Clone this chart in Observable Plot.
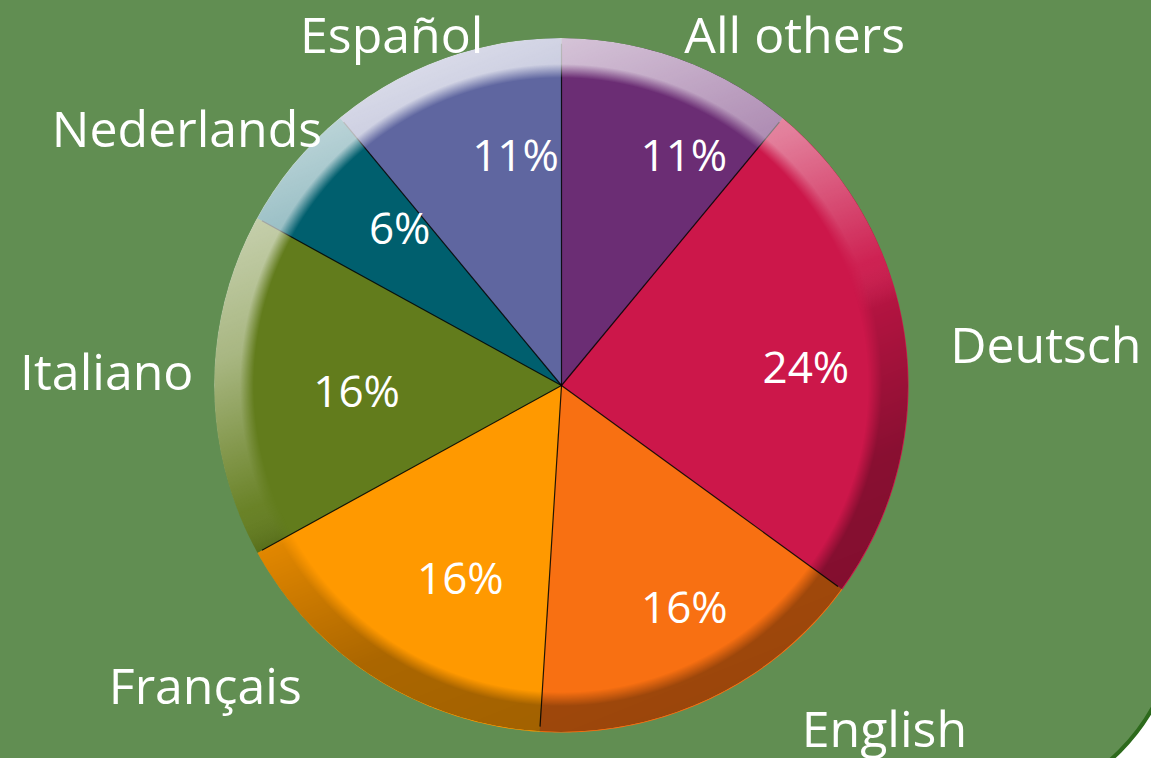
<!DOCTYPE html>
<html>
<head>
<meta charset="utf-8">
<script src="https://cdn.jsdelivr.net/npm/d3@7"></script>
<script src="https://cdn.jsdelivr.net/npm/@observablehq/plot@0.6"></script>
<style>
  html, body { margin: 0; padding: 0; background: #ffffff; width: 1151px; height: 758px; overflow: hidden; position: relative; }
  #bg { position: absolute; left: -10px; top: -10px; width: 1190px; height: 821px; box-sizing: border-box;
        background: #618e52; border: 4px solid #2d6a1c; border-bottom-right-radius: 200px; }
  #chart { position: absolute; left: 0; top: 0; }
</style>
</head>
<body>
<div id="bg"></div>
<div id="chart"></div>
<script>
// ---- data ----
const languages = ["All others", "Deutsch", "English", "Français", "Italiano", "Nederlands", "Español"];
const shares = [11, 24, 16, 16, 16, 6, 11];
const percentLabels = ["11%", "24%", "16%", "16%", "16%", "6%", "11%"];

// ---- styles / layout ----
const palette = ["#6b2d74", "#cc174a", "#f87012", "#ff9900", "#627c1c", "#005f6e", "#5f66a0"];
const W = 1151, H = 758;
const CX = 561, CY = 385, R = 347;           // pie centre & radius in pixels
// label placement relative to slice mid-angle: [angle shift (deg), radius factor]
const pctPlace = [[8.4, 0.746], [3.2, 0.706], [-3.6, 0.735], [-4.9, 0.631], [-2.2, 0.591], [4.2, 0.646], [8.4, 0.671]];
const namePlace = [[14, 1.208], [2.7, 1.40], [-17.9, 1.362], [17.3, 1.346], [1.5, 1.311], [-5.4, 1.305], [-6.2, 1.116]];
const FONT = "'Open Sans', 'Noto Sans', sans-serif";

const table = languages.map((name, i) => ({name, share: shares[i], pct: percentLabels[i]}));
const arcs = d3.pie().sort(null).value(d => d.share)(table);

// slice outlines (polygon approximations of the arcs)
const slicePts = [];
for (const a of arcs) {
  slicePts.push({name: a.data.name, x: 0, y: 0});
  const n = Math.max(2, Math.ceil((a.endAngle - a.startAngle) / (Math.PI / 360)));
  for (let k = 0; k <= n; k++) {
    const t = a.startAngle + (a.endAngle - a.startAngle) * k / n;
    slicePts.push({name: a.data.name, x: R * Math.sin(t), y: R * Math.cos(t)});
  }
  slicePts.push({name: a.data.name, x: 0, y: 0});
}
const borders = arcs.map(a => ({x: 0.985 * R * Math.sin(a.startAngle), y: 0.985 * R * Math.cos(a.startAngle)}));

const deg = Math.PI / 180;
const pctPts = arcs.map((a, i) => {
  const m = (a.startAngle + a.endAngle) / 2 + pctPlace[i][0] * deg, r = pctPlace[i][1] * R;
  return {text: a.data.pct, x: r * Math.sin(m), y: r * Math.cos(m)};
});
const namePts = arcs.map((a, i) => {
  const m = (a.startAngle + a.endAngle) / 2 + namePlace[i][0] * deg, r = namePlace[i][1] * R;
  return {text: a.data.name, x: r * Math.sin(m), y: r * Math.cos(m)};
});

const plot = Plot.plot({
  width: W, height: H,
  margin: 0,
  x: {domain: [-CX, W - CX], axis: null},
  y: {domain: [CY - H, CY], axis: null},
  color: {domain: languages, range: palette},
  style: {background: "transparent", overflow: "visible"},
  marks: [
    Plot.line(slicePts, {x: "x", y: "y", z: "name", fill: "name", stroke: "none", curve: "linear"}),
    Plot.link(borders, {x1: 0, y1: 0, x2: "x", y2: "y", stroke: "#000", strokeWidth: 1.2, strokeOpacity: 0.85}),
    Plot.text(pctPts, {x: "x", y: "y", text: "text", fill: "white", fontSize: 44, fontFamily: FONT}),
    Plot.text(namePts, {x: "x", y: "y", text: "text", fill: "white", fontSize: 50, fontFamily: FONT})
  ]
});

// 3D-style bevelled rim overlay, positioned through the plot's own scales
const sx = plot.scale("x"), sy = plot.scale("y");
const px = sx.apply(0), py = sy.apply(0), pr = sx.apply(R) - sx.apply(0);
const svg = d3.select(plot);
const defs = svg.insert("defs", ":first-child");
const lg = defs.append("linearGradient").attr("id", "rimGrad")
  .attr("x1", 0.3).attr("y1", 0).attr("x2", 0.7).attr("y2", 1);
[[0, "#fff", 0.8], [0.3, "#fff", 0.45], [0.5, "#fff", 0.05], [0.56, "#000", 0.12], [0.75, "#000", 0.33], [1, "#000", 0.38]]
  .forEach(([o, c, op]) => lg.append("stop").attr("offset", o).attr("stop-color", c).attr("stop-opacity", op));
const rg = defs.append("radialGradient").attr("id", "rimFade").attr("cx", 0.5).attr("cy", 0.5).attr("r", 0.5);
[[0, "#000"], [0.885, "#000"], [0.925, "#fff"], [1, "#fff"]]
  .forEach(([o, c]) => rg.append("stop").attr("offset", o).attr("stop-color", c));
defs.append("mask").attr("id", "rimMask")
  .append("circle").attr("cx", px).attr("cy", py).attr("r", pr).attr("fill", "url(#rimFade)");
const firstText = plot.querySelector('g[aria-label="text"]');
const overlay = document.createElementNS("http://www.w3.org/2000/svg", "circle");
overlay.setAttribute("cx", px); overlay.setAttribute("cy", py); overlay.setAttribute("r", pr);
overlay.setAttribute("fill", "url(#rimGrad)"); overlay.setAttribute("mask", "url(#rimMask)");
plot.insertBefore(overlay, firstText);

document.getElementById("chart").appendChild(plot);
</script>
</body>
</html>
